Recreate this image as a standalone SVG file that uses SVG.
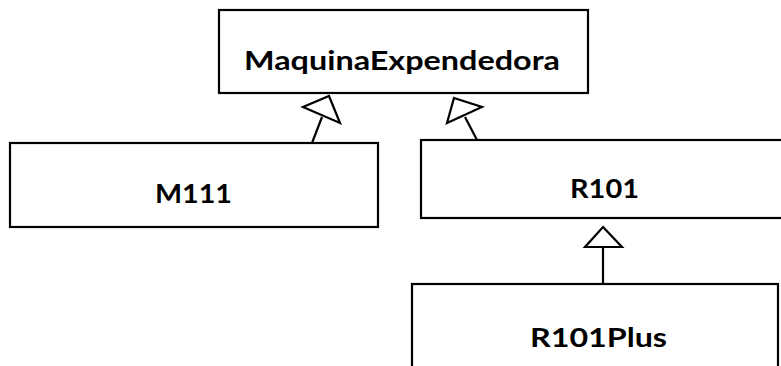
<svg xmlns="http://www.w3.org/2000/svg" width="781" height="366" viewBox="0 0 781 366">
<style>
.box{fill:#fff;stroke:#000;stroke-width:2.2}
.lbl{font-family:Lato,"Open Sans","Liberation Sans",sans-serif;font-weight:700;font-size:26.5px;fill:#000;text-anchor:middle}
.conn{fill:none;stroke:#000;stroke-width:2.2}
.head{fill:#fff;stroke:#000;stroke-width:2.2;stroke-linejoin:miter}
</style>
<rect width="781" height="366" fill="#fff"/>
<g id="MaquinaExpendedora">
<rect class="box" x="219" y="10" width="369" height="83"/>
<text class="lbl" x="402" y="70" textLength="316" lengthAdjust="spacingAndGlyphs">MaquinaExpendedora</text>
</g>
<g id="M111">
<rect class="box" x="10" y="143" width="368" height="84"/>
<text class="lbl" x="193.5" y="203" textLength="77" lengthAdjust="spacingAndGlyphs">M111</text>
</g>
<g id="R101">
<rect class="box" x="421" y="140" width="370" height="78"/>
<text class="lbl" x="604.5" y="198" textLength="69" lengthAdjust="spacingAndGlyphs">R101</text>
</g>
<g id="R101Plus">
<rect class="box" x="412" y="284" width="366" height="100"/>
<text class="lbl" x="598.5" y="347" textLength="137" lengthAdjust="spacingAndGlyphs">R101Plus</text>
</g>
<g id="connectors">
<line class="conn" x1="322" y1="117" x2="312" y2="143"/>
<polygon class="head" points="329,96 340,123 303,107"/>
<line class="conn" x1="465" y1="117" x2="477" y2="140"/>
<polygon class="head" points="454,98 482,107 447,123"/>
<line class="conn" x1="603" y1="247" x2="603" y2="284"/>
<polygon class="head" points="603,227 622,247 585,247"/>
</g>
</svg>
